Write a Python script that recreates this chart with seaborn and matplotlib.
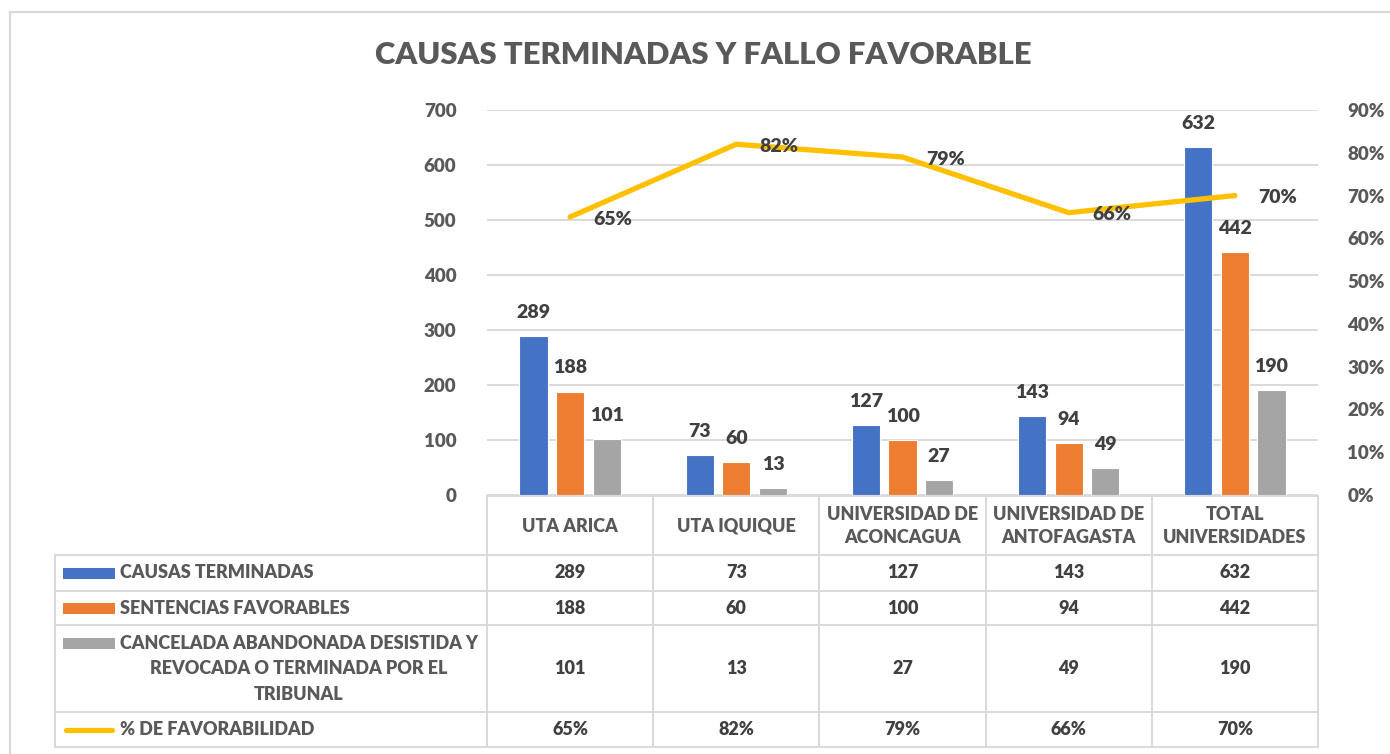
import numpy as np
import pandas as pd
import matplotlib
matplotlib.use("Agg")
import matplotlib.pyplot as plt
import seaborn as sns
from matplotlib.ticker import PercentFormatter

# datos
universidades = ["UTA ARICA", "UTA IQUIQUE", "UNIVERSIDAD DE\nACONCAGUA",
                 "UNIVERSIDAD DE\nANTOFAGASTA", "TOTAL\nUNIVERSIDADES"]
causas_terminadas = [289, 73, 127, 143, 632]
sentencias_favorables = [188, 60, 100, 94, 442]
canceladas = [101, 13, 27, 49, 190]
favorabilidad = [0.65, 0.82, 0.79, 0.66, 0.70]
series = ["CAUSAS TERMINADAS", "SENTENCIAS FAVORABLES",
          "CANCELADA ABANDONADA DESISTIDA Y\nREVOCADA O TERMINADA POR EL\nTRIBUNAL"]
serie_linea = "% DE FAVORABILIDAD"
colores = ["#4472C4", "#ED7D31", "#A5A5A5"]
color_linea = "#FFC000"

sns.set_theme(style="white")
plt.rcParams["font.family"] = ["Lato", "DejaVu Sans"]
PESO = 800

gris_txt = "#595959"
gris_dato = "#404040"
gris_borde = "#D9D9D9"

df = pd.DataFrame({
    "universidad": universidades * 3,
    "serie": [s for s in series for _ in universidades],
    "valor": causas_terminadas + sentencias_favorables + canceladas,
})

W, H = 1390, 754
fig = plt.figure(figsize=(W / 100, H / 100), dpi=100)

# capa de fondo en pixeles para la tabla y el marco
tab = fig.add_axes([0, 0, 1, 1], zorder=0)
tab.set_xlim(0, W)
tab.set_ylim(H, 0)
tab.axis("off")

ax = fig.add_axes([487 / W, 1 - 495 / H, (1318 - 487) / W, (495 - 110) / H], zorder=1)
ax.set_facecolor("none")

sns.barplot(data=df, x="universidad", y="valor", hue="serie", palette=colores,
            saturation=1, width=0.66, gap=0.23, edgecolor="white", linewidth=0.8,
            legend=False, ax=ax)
ax.set_xlim(-0.5, len(universidades) - 0.5)
ax.set_ylim(0, 700)
ax.set_yticks(range(0, 701, 100))
ax.yaxis.grid(True, color=gris_borde, lw=1.4)
ax.set_axisbelow(True)
ax.set_xlabel("")
ax.set_ylabel("")
ax.tick_params(axis="x", bottom=False, labelbottom=False, length=0)
ax.tick_params(axis="y", which="both", left=False, right=False, length=0,
               labelsize=13.5, labelcolor=gris_txt, pad=22)
for lab in ax.get_yticklabels():
    lab.set_fontweight(PESO)
sns.despine(ax=ax, left=True, bottom=True)

for cont in ax.containers:
    ax.bar_label(cont, padding=11, fontsize=14, color=gris_dato, fontweight=PESO)

ax2 = ax.twinx()
sns.lineplot(x=np.arange(len(universidades)), y=favorabilidad, color=color_linea,
             lw=3.8, ax=ax2)
ax2.lines[0].set_solid_capstyle("round")
ax2.set_ylim(0, 0.9)
ax2.set_yticks(np.arange(0, 0.91, 0.1))
ax2.yaxis.set_major_formatter(PercentFormatter(1.0, decimals=0))
ax2.tick_params(axis="y", which="both", left=False, right=False, length=0,
                labelsize=13.5, labelcolor=gris_txt, pad=21)
ax2.tick_params(axis="x", bottom=False, length=0)
for lab in ax2.get_yticklabels():
    lab.set_fontweight(PESO)
sns.despine(ax=ax2, left=True, bottom=True, right=True)
for i, v in enumerate(favorabilidad):
    ax2.annotate(f"{v:.0%}", (i, v), xytext=(31, -1.5), textcoords="offset points",
                 ha="center", va="center", fontsize=14, color=gris_dato,
                 fontweight=PESO)

fig.text(703 / W, 1 - 55 / H, "CAUSAS TERMINADAS Y FALLO FAVORABLE",
         ha="center", va="center", fontsize=22.3, color=gris_txt, fontweight=PESO)

# marco del grafico
tab.plot([10, 10], [12, H], color=gris_borde, lw=1.6)
tab.plot([10, W], [12, 12], color=gris_borde, lw=1.6)

# tabla de datos
fig.canvas.draw()
def px_x(v):
    return ax.transData.transform((v, 0))[0]

bordes = [px_x(i - 0.5) for i in range(len(universidades) + 1)]
centros = [px_x(i) for i in range(len(universidades))]
filas = [555, 591, 625, 712, 747]
izq = 55
lw_t = 1.4
fs_t = 13

tab.plot([bordes[0], bordes[-1]], [496, 496], color=gris_borde, lw=lw_t)
for y in filas:
    tab.plot([izq, bordes[-1]], [y, y], color=gris_borde, lw=lw_t)
for x in bordes:
    tab.plot([x, x], [496, filas[-1]], color=gris_borde, lw=lw_t)
tab.plot([izq, izq], [filas[0], filas[-1]], color=gris_borde, lw=lw_t)

for c, u in zip(centros, universidades):
    tab.text(c, 526, u, ha="center", va="center", fontsize=fs_t, color=gris_txt,
             fontweight=PESO, linespacing=1.4)

valores = [causas_terminadas, sentencias_favorables, canceladas,
           [f"{v:.0%}" for v in favorabilidad]]
centros_fila = [(filas[k] + filas[k + 1]) / 2 for k in range(4)]
for k, vals in enumerate(valores):
    for c, v in zip(centros, vals):
        tab.text(c, centros_fila[k], str(v), ha="center", va="center",
                 fontsize=fs_t, color=gris_dato, fontweight=PESO)

# etiquetas de fila con muestra de color
for k, (s, col) in enumerate(zip(series, colores)):
    if "\n" in s:
        y0 = 643
        tab.add_patch(plt.Rectangle((63, y0 - 5.5), 52, 11, color=col, lw=0))
        tab.text(299, centros_fila[k] + 0.5, s, ha="center", va="center",
                 multialignment="center", fontsize=fs_t, color=gris_txt,
                 fontweight=PESO, linespacing=1.58)
    else:
        y0 = centros_fila[k]
        tab.add_patch(plt.Rectangle((63, y0 - 5.5), 52, 11, color=col, lw=0))
        tab.text(120, y0, s, ha="left", va="center", fontsize=fs_t,
                 color=gris_txt, fontweight=PESO)
tab.plot([66, 112], [centros_fila[3], centros_fila[3]], color=color_linea, lw=3.8,
         solid_capstyle="round")
tab.text(120, centros_fila[3], serie_linea, ha="left", va="center", fontsize=fs_t,
         color=gris_txt, fontweight=PESO)

fig.savefig("out.png", dpi=100)
